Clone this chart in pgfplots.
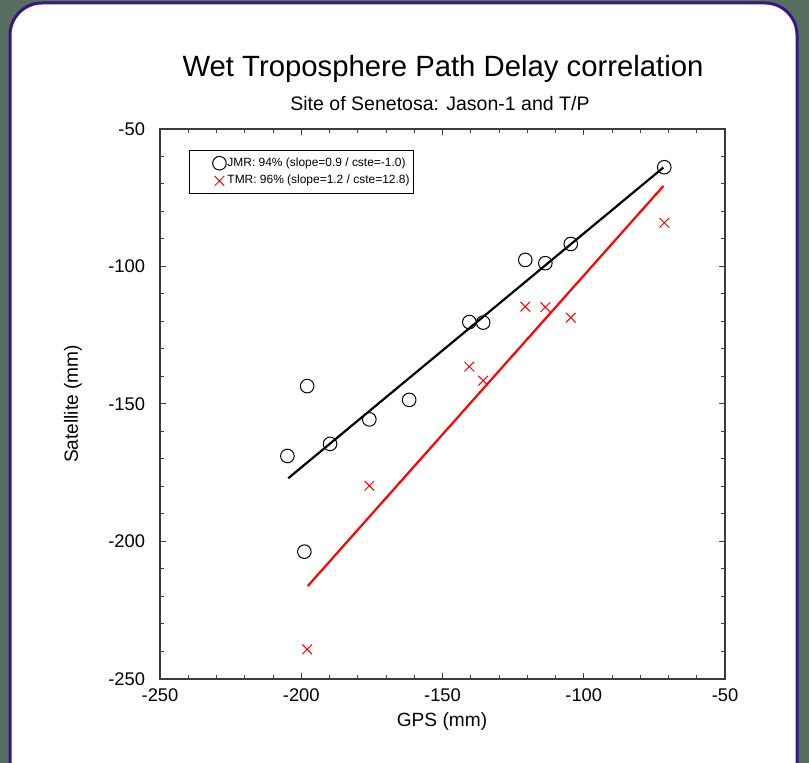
\documentclass[border=0pt]{standalone}
\usepackage{fontspec}
\setmainfont{Liberation Sans}
\usepackage{pgfplots}
\pgfplotsset{compat=1.18}
\definecolor{bgc}{RGB}{85,110,95}
\definecolor{frame}{RGB}{60,20,140}
\definecolor{axgray}{RGB}{60,60,60}
\begin{document}
\begin{tikzpicture}
\useasboundingbox (0,0) rectangle (404.5bp,381.5bp);
\begin{scope}
\clip (0,0) rectangle (404.5bp,381.5bp);
\fill[bgc] (0,0) rectangle (404.5bp,381.5bp);
\draw[frame,line width=1.5bp,fill=white,rounded corners=16bp] (5bp,-20bp) rectangle (398.5bp,380bp);
\end{scope}
\node[anchor=base,font=\fontsize{14.7}{17}\selectfont] at (221.5bp,343bp) {Wet Troposphere Path Delay correlation};
\node[anchor=base,font=\fontsize{9.8}{12}\selectfont] at (220bp,326bp) {Site of Senetosa: Jason-1 and T/P};
\node[rotate=90,font=\fontsize{9.6}{12}\selectfont] at (36.5bp,179.5bp) {Satellite (mm)};
\node[font=\fontsize{9.6}{12}\selectfont] at (221bp,20.5bp) {GPS (mm)};
\begin{axis}[
  at={(80bp,42bp)}, anchor=south west,
  scale only axis, width=282.5bp, height=275bp,
  xmin=-250, xmax=-50, ymin=-250, ymax=-50,
  xtick={-250,-200,...,-50}, ytick={-250,-200,...,-50},
  minor tick num=4,
  tick align=inside,
  major tick length=3bp, minor tick length=1.8bp,
  axis line style={axgray, line width=0.6bp},
  every tick/.style={axgray, line width=0.5bp},
  /pgf/number format/assume math mode=true,
  ticklabel style={font=\fontsize{9.2}{11}\selectfont},
  xticklabel style={yshift=-1.2bp},
  yticklabel style={xshift=-4bp},
  legend style={at={(0.0514,0.9618)}, anchor=north west, draw=black, line width=0.4bp,
    font=\fontsize{6}{7}\selectfont, inner xsep=1.5bp, inner ysep=1.5bp, row sep=-1pt,
    nodes={inner xsep=0.6bp},
    /tikz/every even column/.append style={column sep=0pt}},
  legend cell align=left,
  legend image code/.code={\path (0bp,0bp) (16.5bp,0bp); \draw[#1,mark repeat=1] plot coordinates {(13.3bp,0bp)};},
]
\addplot[only marks, mark=o, mark size=3.4bp, mark options={black, line width=0.5bp}] coordinates {
(-71.5,-63.9) (-104.6,-91.8) (-113.6,-98.8) (-120.7,-97.6) (-140.5,-120.2) (-135.6,-120.4)
(-161.8,-148.5) (-175.9,-155.6) (-189.8,-164.5) (-197.9,-143.5) (-204.9,-168.9) (-198.9,-203.7)
};
\addlegendentry{JMR: 94\% (slope=0.9 / cste=-1.0)}
\addplot[only marks, mark=x, mark size=3.4bp, mark options={red, line width=0.5bp}] coordinates {
(-71.5,-84.1) (-120.7,-114.6) (-113.6,-114.8) (-104.6,-118.6) (-140.5,-136.4) (-135.6,-141.5)
(-175.9,-179.7) (-197.9,-239.2)
};
\addlegendentry{TMR: 96\% (slope=1.2 / cste=12.8)}
\addplot[black, line width=1.1bp, forget plot] coordinates {(-204.6,-177.0) (-71.8,-64.0)};
\addplot[red, line width=1.1bp, forget plot] coordinates {(-197.7,-216.2) (-71.8,-70.7)};
\end{axis}
\end{tikzpicture}
\end{document}
